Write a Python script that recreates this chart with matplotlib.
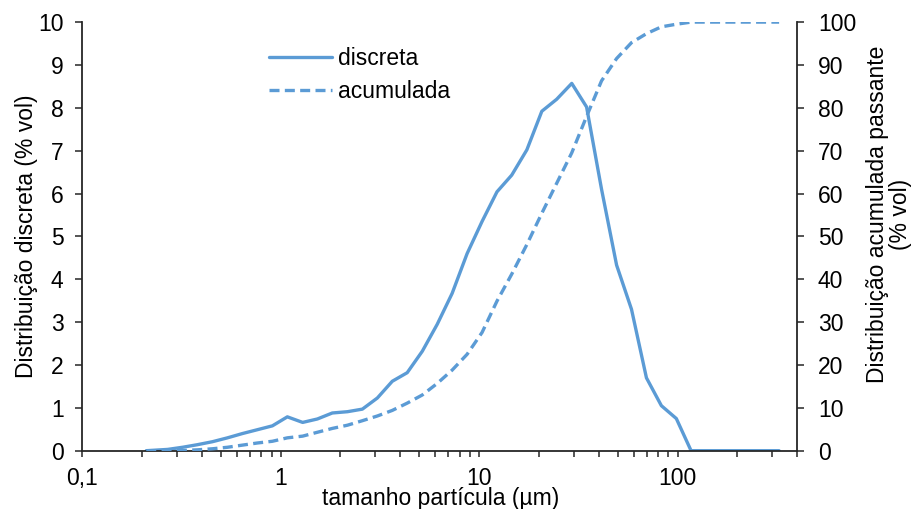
import matplotlib
matplotlib.use("Agg")
import matplotlib.pyplot as plt
from matplotlib.ticker import FixedLocator, LogLocator, NullFormatter, FixedFormatter

plt.rcParams['font.family'] = ['Liberation Sans', 'DejaVu Sans']

# particle size classes (µm)
tamanho = [0.21, 0.269, 0.320, 0.380, 0.453, 0.539, 0.641, 0.763, 0.908,
           1.08, 1.29, 1.53, 1.82, 2.17, 2.58, 3.07, 3.65, 4.34, 5.17,
           6.15, 7.31, 8.7, 10.35, 12.3, 14.6, 17.4, 20.7, 24.6, 29.3,
           34.8, 41.4, 49.3, 58.6, 69.7, 82.9, 98.6, 117, 139, 166,
           197, 235, 279, 325]

# discrete distribution (% vol)
discreta = [0, 0.03, 0.08, 0.14, 0.21, 0.30, 0.40, 0.49, 0.58,
            0.79, 0.66, 0.74, 0.88, 0.91, 0.97, 1.23, 1.62, 1.82, 2.32,
            2.95, 3.67, 4.6, 5.35, 6.04, 6.43, 7.02, 7.92, 8.2, 8.57,
            8.02, 6.1, 4.33, 3.3, 1.7, 1.05, 0.75, 0, 0, 0,
            0, 0, 0, 0]

# cumulative passing (% vol)
acumulada = [0, 0, 0.05, 0.2, 0.45, 0.8, 1.3, 1.8, 2.2,
             3.0, 3.4, 4.3, 5.2, 5.95, 7.0, 8.1, 9.4, 11.1, 13.0,
             15.7, 18.8, 22.5, 27.6, 34.9, 41.2, 48.1, 55.4, 62.4, 69.5,
             78.0, 86.3, 91.5, 95.2, 97.3, 98.9, 99.5, 100, 100, 100,
             100, 100, 100, 100]

left_ticks = list(range(0, 11))
right_ticks = list(range(0, 101, 10))
x_major = [0.1, 1, 10, 100]
x_labels = ["0,1", "1", "10", "100"]

blue = '#5B9BD5'
axc = '#262626'
fs = 16.5

W, H = 918, 509
fig = plt.figure(figsize=(W/100, H/100), dpi=100)
ax = fig.add_axes([82.3/W, 1-450.7/H, (797-82.3)/W, (450.7-22.1)/H])
ax2 = ax.twinx()

l1, = ax.plot(tamanho, discreta, color=blue, lw=2.4, solid_capstyle='round',
              solid_joinstyle='round', label='discreta')
l2, = ax2.plot(tamanho, acumulada, color=blue, lw=2.4, linestyle=(0, (3.0, 1.6)),
               label='acumulada')

ax.set_xscale('log')
ax.set_xlim(0.1, 400)
ax.set_ylim(0, 10)
ax2.set_ylim(0, 100)
ax.xaxis.set_major_locator(FixedLocator(x_major))
ax.xaxis.set_major_formatter(FixedFormatter(x_labels))
ax.xaxis.set_minor_locator(LogLocator(base=10, subs=range(2, 10)))
ax.xaxis.set_minor_formatter(NullFormatter())
ax.set_yticks(left_ticks)
ax2.set_yticks(right_ticks)

for a in (ax, ax2):
    a.spines['top'].set_visible(False)
    for s in a.spines.values():
        s.set_color(axc)
        s.set_linewidth(1.3)
ax.spines['right'].set_visible(False)
ax2.spines['left'].set_visible(False)
ax2.spines['bottom'].set_visible(False)

ax.tick_params(axis='y', which='major', direction='out', length=5, width=1.1, color=axc,
               labelsize=fs, pad=8.5)
ax.tick_params(axis='x', which='both', direction='out', length=4.5, width=1.1, color=axc,
               labelsize=fs, pad=7)
ax2.tick_params(axis='y', which='major', direction='out', length=5, width=1.1, color=axc,
                labelsize=fs, pad=10)

fig.text(441/W, 1-505.5/H, 'tamanho partícula (µm)', ha='center', va='baseline', fontsize=fs)
fig.text(27/W, 1-236.5/H, 'Distribuição discreta (% vol)', rotation=90,
         ha='center', va='center', fontsize=fs)
fig.text(889/W, 1-214/H, 'Distribuição acumulada passante\n(% vol)', rotation=90,
         ha='center', va='center', multialignment='center', fontsize=fs, linespacing=1.0)

fig.legend(handles=[l1, l2], loc='upper left', bbox_to_anchor=(269/W, 1-47/H),
           frameon=False, fontsize=fs, handlelength=2.75, handletextpad=0.27,
           labelspacing=0.45, borderaxespad=0, borderpad=0)

fig.savefig('out.png', dpi=100)
